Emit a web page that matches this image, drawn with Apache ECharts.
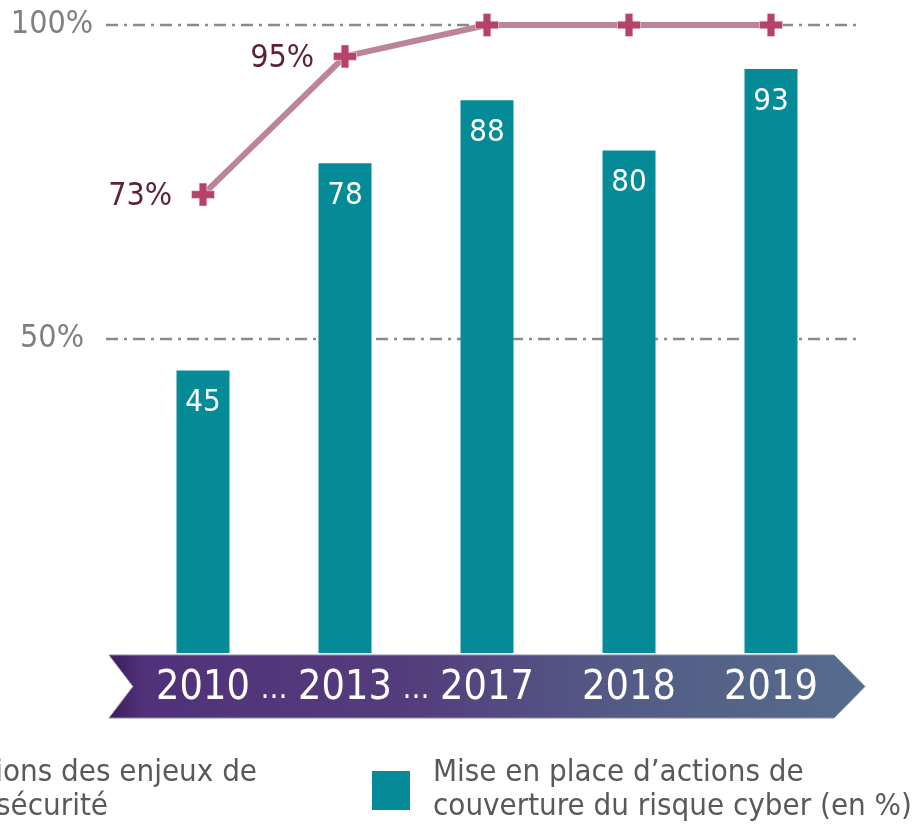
<!DOCTYPE html>
<html><head><meta charset="utf-8">
<script src="https://cdn.jsdelivr.net/npm/echarts@6/dist/echarts.min.js"></script>
<style>html,body{margin:0;padding:0;background:#fff;overflow:hidden}#c{width:924px;height:827px}</style>
</head><body><div id="c"></div>
<script>
// ---- data ----
const categories = ['2010', '2013', '2017', '2018', '2019'];
const barValues = [45, 78, 88, 80, 93];
const lineValues = [73, 95, 100, 100, 100];
const lineLabels = ['73%', '95%', '', '', ''];
const gridValues = [50, 100];
const gapLabel = '…';
const gapAfter = [0, 1]; // ellipsis after 2010 and after 2013
const legendBarLines = ['Mise en place d’actions de', 'couverture du risque cyber (en %)'];
const legendLineLines = ['Prise en compte par les directions des enjeux de', 'cybersécurité'];

const FONT = '"DejaVu Sans Condensed", "DejaVu Sans", sans-serif';
const plus = 'path://M8,0H16V8H24V16H16V24H8V16H0V8H8Z';

const chart = echarts.init(document.getElementById('c'), null, {renderer: 'canvas'});
const option = {
  animation: false,
  backgroundColor: '#fff',
  textStyle: {fontFamily: FONT},
  grid: {left: 132, right: 82, top: 25, bottom: 174},
  xAxis: {
    type: 'category', data: categories, z: 10,
    axisLine: {show: false}, axisTick: {show: false},
    axisLabel: {color: '#ffffff', fontSize: 41, fontFamily: FONT, margin: 12, lineHeight: 46}
  },
  yAxis: {
    type: 'value', min: 0, max: 100, interval: 50,
    axisLine: {show: false}, axisTick: {show: false}, splitLine: {show: false},
    axisLabel: {color: '#808080', fontSize: 32, fontFamily: FONT, align: 'center', margin: 80,
      formatter: v => (v === 0 ? '' : v + '%')}
  },
  series: [
    {
      type: 'bar', data: barValues, barWidth: 53, z: 2,
      itemStyle: {color: '#058b97'},
      label: {show: true, position: 'insideTop', distance: 17, color: '#ffffff', fontSize: 31, fontFamily: FONT}
    },
    {
      type: 'line', z: 5,
      data: lineValues.map((v, i) => ({value: v, label: {show: !!lineLabels[i]}})),
      symbol: plus, symbolSize: 23,
      itemStyle: {color: '#b5426b', borderColor: '#f3dbe3', borderWidth: 0.6},
      lineStyle: {color: '#bc8597', width: 6},
      label: {position: 'left', distance: 19, color: '#5e1f3b', fontSize: 32, fontFamily: FONT,
        offset: [0, 2], formatter: p => lineLabels[p.dataIndex]}
    }
  ]
};
chart.setOption(option);

// decorations using the chart's scales
const graphics = [];
gridValues.forEach(v => {
  const y = chart.convertToPixel({yAxisIndex: 0}, v);
  graphics.push({type: 'line', z: -1, shape: {x1: 106, y1: y, x2: 860, y2: y},
    style: {stroke: '#8a8a8a', lineWidth: 2.5, lineDash: [12, 6, 3, 6]}});
});
const y0 = chart.convertToPixel({yAxisIndex: 0}, 0);
const bTop = y0 + 2, bBot = y0 + 65, bMid = (bTop + bBot) / 2;
graphics.push({
  type: 'polygon', z: 1,
  shape: {points: [[109, bTop], [834, bTop], [865, bMid], [834, bBot], [109, bBot], [133, bMid]]},
  style: {
    fill: new echarts.graphic.LinearGradient(0, 0, 1, 0, [
      {offset: 0, color: '#3a1d58'}, {offset: 0.045, color: '#51317a'},
      {offset: 0.4, color: '#543d7c'}, {offset: 0.7, color: '#535d86'}, {offset: 1, color: '#566c8c'}
    ]),
    stroke: '#8f8aa3', lineWidth: 1
  }
});
gapAfter.forEach(i => {
  const xa = chart.convertToPixel({xAxisIndex: 0}, categories[i]);
  const xb = chart.convertToPixel({xAxisIndex: 0}, categories[i + 1]);
  graphics.push({type: 'text', z: 20, x: (xa + xb) / 2, y: bMid + 4,
    style: {text: gapLabel, fill: '#ffffff', font: '30px ' + FONT, align: 'center', verticalAlign: 'middle'}});
});
// legend
const LF = '31px ' + FONT;
graphics.push({type: 'rect', z: 20, shape: {x: 372, y: 771, width: 38, height: 39}, style: {fill: '#058b97'}});
graphics.push({type: 'text', z: 20, x: 433, y: 773,
  style: {text: legendBarLines[0], fill: '#595959', font: LF, align: 'left', verticalAlign: 'middle'}});
graphics.push({type: 'text', z: 20, x: 433, y: 807,
  style: {text: legendBarLines[1], fill: '#595959', font: LF, align: 'left', verticalAlign: 'middle'}});
graphics.push({type: 'text', z: 20, x: 257, y: 773,
  style: {text: legendLineLines[0], fill: '#595959', font: LF, align: 'right', verticalAlign: 'middle'}});
graphics.push({type: 'text', z: 20, x: 108, y: 807,
  style: {text: legendLineLines[1], fill: '#595959', font: LF, align: 'right', verticalAlign: 'middle'}});

chart.setOption({graphic: {elements: graphics}});
</script></body></html>
